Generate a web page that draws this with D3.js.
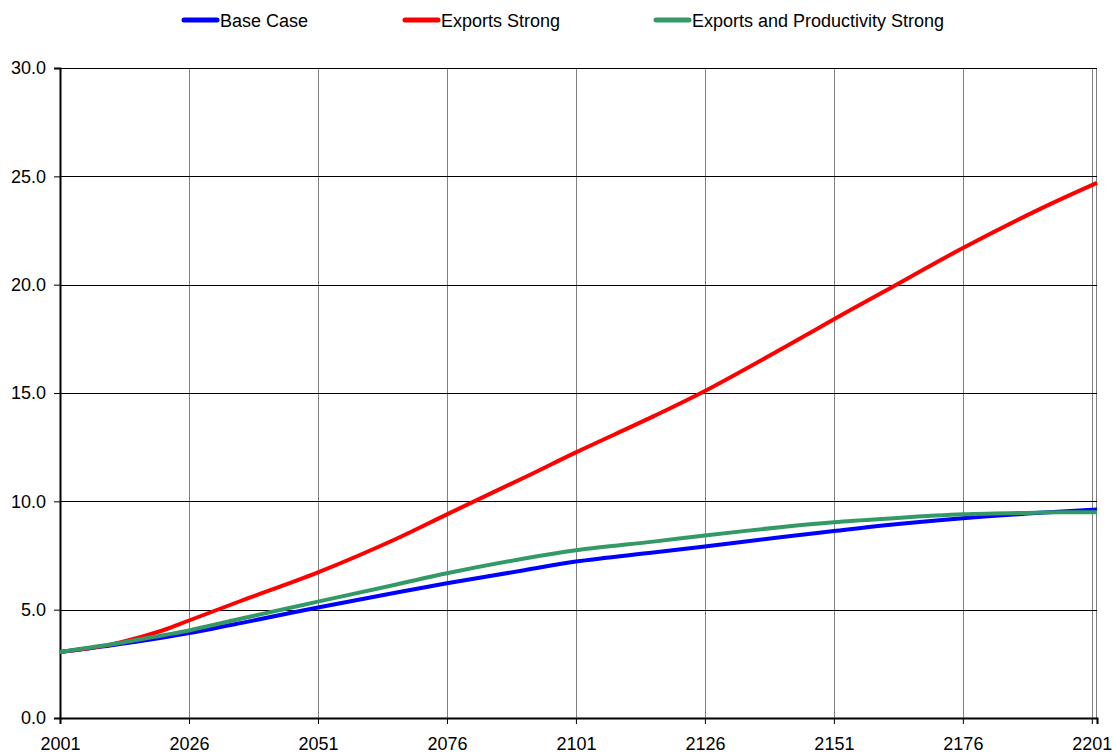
<!DOCTYPE html>
<html>
<head>
<meta charset="utf-8">
<script src="https://cdn.jsdelivr.net/npm/d3@7"></script>
<style>
  html, body { margin: 0; padding: 0; background: #fff; }
  svg { display: block; font-family: "Liberation Sans", Arial, sans-serif; }
</style>
</head>
<body>
<svg id="chart" width="1114" height="755"></svg>
<script>
const years      = [2001, 2011, 2021, 2026, 2036, 2051, 2066, 2076, 2091, 2101, 2116, 2126, 2141, 2151, 2161, 2176, 2191, 2202];
const baseCase   = [3.05, 3.36, 3.72, 3.92, 4.38, 5.10, 5.78, 6.22, 6.82, 7.22, 7.64, 7.92, 8.35, 8.63, 8.90, 9.22, 9.47, 9.62];
const exportsStr = [3.05, 3.40, 4.05, 4.50, 5.40, 6.72, 8.25, 9.40, 11.10, 12.26, 13.92, 15.09, 17.05, 18.40, 19.72, 21.69, 23.50, 24.70];
const expProdStr = [3.05, 3.40, 3.82, 4.04, 4.58, 5.37, 6.15, 6.68, 7.36, 7.74, 8.14, 8.42, 8.82, 9.04, 9.20, 9.40, 9.48, 9.50];
const xTicks     = [2001, 2026, 2051, 2076, 2101, 2126, 2151, 2176, 2201];
const yTicks     = [0, 5, 10, 15, 20, 25, 30];
const seriesNames = ["Base Case", "Exports Strong", "Exports and Productivity Strong"];
const seriesColors = ["#0000ff", "#ff0000", "#339966"];
const seriesValues = [baseCase, exportsStr, expProdStr];

(function () {
const svg = d3.select("#chart");
const pLeft = 60, pRight = 1097, pTop = 68, pBottom = 718;
const FONT = "'Liberation Sans', Arial, sans-serif";

const x = d3.scaleLinear().domain([2001, 2202]).range([pLeft, pRight]);
const y = d3.scaleLinear().domain([0, 30]).range([pBottom, pTop]);

// vertical gridlines
svg.append("g").selectAll("line").data(xTicks.slice(1)).join("line")
  .attr("x1", d => Math.round(x(d)) + 0.5).attr("x2", d => Math.round(x(d)) + 0.5)
  .attr("y1", pTop).attr("y2", pBottom)
  .attr("stroke", "#808080").attr("stroke-width", 1);
// right border
svg.append("line").attr("x1", pRight - 0.5).attr("x2", pRight - 0.5)
  .attr("y1", pTop).attr("y2", pBottom).attr("stroke", "#808080").attr("stroke-width", 1);

// horizontal gridlines
svg.append("g").selectAll("line").data(yTicks.slice(1)).join("line")
  .attr("x1", pLeft).attr("x2", pRight)
  .attr("y1", d => Math.round(y(d)) + 0.5).attr("y2", d => Math.round(y(d)) + 0.5)
  .attr("stroke", "#000").attr("stroke-width", 1);

// y axis
const yAxis = d3.axisLeft(y).tickValues(yTicks).tickFormat(d3.format(".1f")).tickSize(6).tickPadding(8);
const gy = svg.append("g").attr("transform", `translate(${pLeft},0)`).call(yAxis);
gy.attr("font-size", 18).attr("font-family", FONT);
gy.select(".domain").attr("stroke", "#000").attr("stroke-width", 2);
gy.selectAll(".tick line").attr("stroke", "#000");
gy.selectAll("text").attr("fill", "#000");

// x axis
const xAxis = d3.axisBottom(x).tickValues(xTicks).tickFormat(d3.format("d")).tickSize(6).tickPadding(13);
const gx = svg.append("g").attr("transform", `translate(0,${pBottom})`).call(xAxis);
gx.attr("font-size", 18).attr("font-family", FONT);
gx.select(".domain").attr("stroke", "#000").attr("stroke-width", 2);
gx.selectAll(".tick line").attr("stroke", "#000");
gx.selectAll("text").attr("fill", "#000");

// lines
const line = d3.line().x((d, i) => x(years[i])).y(d => y(d)).curve(d3.curveCatmullRom.alpha(0.5));
seriesValues.forEach((vals, k) => {
  svg.append("path").datum(vals)
    .attr("d", line)
    .attr("fill", "none")
    .attr("stroke", seriesColors[k])
    .attr("stroke-width", 4)
    .attr("stroke-linejoin", "round");
});

// legend
const legendX = [184, 405, 656];
const lg = svg.append("g").attr("font-family", FONT);
seriesNames.forEach((name, k) => {
  lg.append("line").attr("x1", legendX[k]).attr("x2", legendX[k] + 33)
    .attr("y1", 20).attr("y2", 20)
    .attr("stroke", seriesColors[k]).attr("stroke-width", 5).attr("stroke-linecap", "round");
  lg.append("text").attr("x", legendX[k] + 36).attr("y", 26.5)
    .attr("font-size", 18).attr("fill", "#000").text(name);
});
})();
</script>
</body>
</html>
